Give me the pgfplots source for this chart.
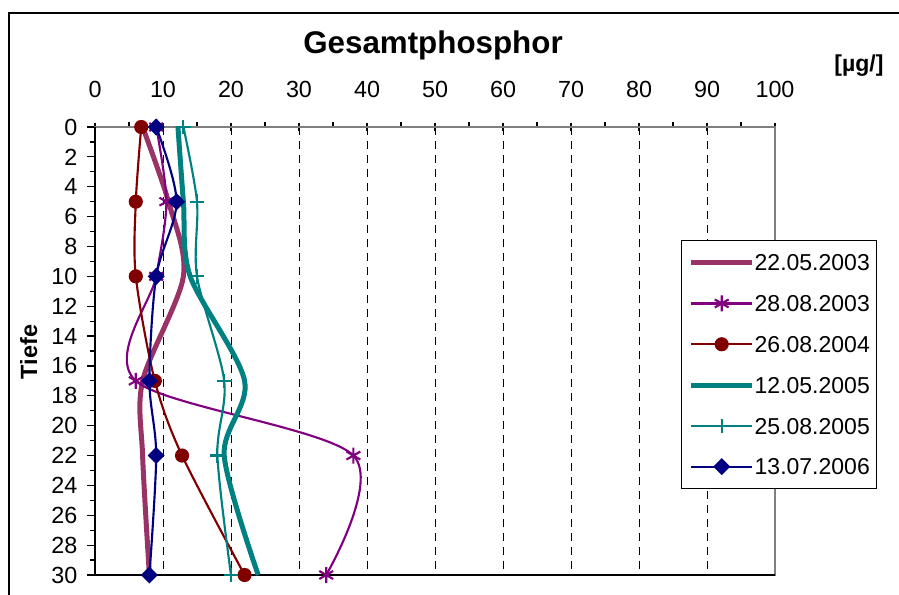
\documentclass[border=0pt]{standalone}
\usepackage{fontspec}
\setmainfont{Liberation Sans}
\usepackage{pgfplots}
\pgfplotsset{compat=1.18}
\definecolor{plum}{HTML}{993366}
\definecolor{purp}{HTML}{800080}
\definecolor{dred}{HTML}{800000}
\definecolor{tealx}{HTML}{008080}
\definecolor{navy}{HTML}{000080}

\begin{document}
\begin{tikzpicture}
\path[use as bounding box] (0,0) rectangle (674.25pt,-446.25pt);
\draw[line width=1.1pt] (6.75pt,-450pt) -- (6.75pt,-9.75pt) -- (680pt,-9.75pt);

\begin{axis}[
  at={(71.25pt,-95.25pt)}, anchor=north west,
  scale only axis, width=510pt, height=336pt,
  xmin=0, xmax=100, ymin=0, ymax=30, y dir=reverse,
  xtick={0,10,...,100}, minor x tick num=1,
  ytick={0,2,...,30}, minor y tick num=1,
  xtick pos=upper, xticklabel pos=upper,
  ytick pos=left, yticklabel pos=left,
  axis line style={draw=gray, line width=1.5pt},
  tick align=outside,
  major tick length=6pt, minor tick length=4pt,
  tick style={black, line width=0.9pt},
  major x tick style={yshift=-3pt},
  xmajorgrids,
  major x grid style={black, line width=0.6pt, dash pattern=on 6pt off 4.5pt},
  /pgf/number format/assume math mode=true,
  ticklabel style={font=\fontsize{17.5}{20}\selectfont},
  xticklabel style={yshift=12.75pt},
  yticklabel style={xshift=-3.75pt},
  clip=false,
  legend cell align=left,
  legend style={at={(0.8618,0.7478)}, anchor=north west, draw=black,
    line width=1pt, fill=white, font=\fontsize{17.25}{20}\selectfont,
    inner xsep=5.25pt, inner ysep=10.25pt, row sep=18.1pt,
    nodes={inner sep=0pt, text height=12.5pt, text depth=0pt}},
  legend image code/.code={\draw[mark repeat=2,mark phase=2,#1]
    plot coordinates {(0pt,0pt) (22.875pt,0pt) (45.75pt,0pt)}; \hspace*{4.5pt}},
]
\draw[black, line width=1.2pt] (rel axis cs:0,1) -- (rel axis cs:0,0) -- (rel axis cs:1,0);

\addplot[plum, line width=3.75pt, smooth, mark=none]
  coordinates {(7,0) (10.8,5) (13,10) (7,17) (7,22) (8,30)};
\addlegendentry{22.05.2003}
\addplot[purp, line width=1.6pt, smooth, mark=asterisk, mark size=6pt,
  mark options={line width=1.6pt}]
  coordinates {(9,0) (10.5,5) (9,10) (6,17) (38,22) (34,30)};
\addlegendentry{28.08.2003}
\addplot[dred, line width=1.6pt, smooth, mark=*, mark size=4.5pt,
  mark options={fill=dred}]
  coordinates {(6.8,0) (6,5) (6,10) (8.8,17) (12.8,22) (22,30)};
\addlegendentry{26.08.2004}
\addplot[tealx, line width=3.75pt, smooth, mark=none]
  coordinates {(12.2,0) (13,5) (14,10) (22,17) (19,22) (24,30)};
\addlegendentry{12.05.2005}
\addplot[tealx, line width=1.6pt, smooth, mark=+, mark size=5.5pt,
  mark options={line width=1.6pt}]
  coordinates {(13,0) (15,5) (15,10) (19,17) (18,22) (20,30)};
\addlegendentry{25.08.2005}
\addplot[navy, line width=1.6pt, smooth, mark=diamond*, mark size=5.25pt,
  mark options={fill=navy, xscale=1.33}]
  coordinates {(9,0) (12,5) (9,10) (8,17) (9,22) (8,30)};
\addlegendentry{13.07.2006}
\end{axis}

\begin{scope}[x=0.75pt, y=-0.75pt]
\node[font=\bfseries\fontsize{23.5}{28}\selectfont, anchor=base] at (433,54) {Gesamtphosphor};
\node[font=\bfseries\fontsize{17.3}{20}\selectfont, anchor=base] at (859,72) {[µg/]};
\node[font=\bfseries\fontsize{17.6}{20}\selectfont, rotate=90, anchor=base] at (37,352) {Tiefe};
\end{scope}
\end{tikzpicture}
\end{document}
